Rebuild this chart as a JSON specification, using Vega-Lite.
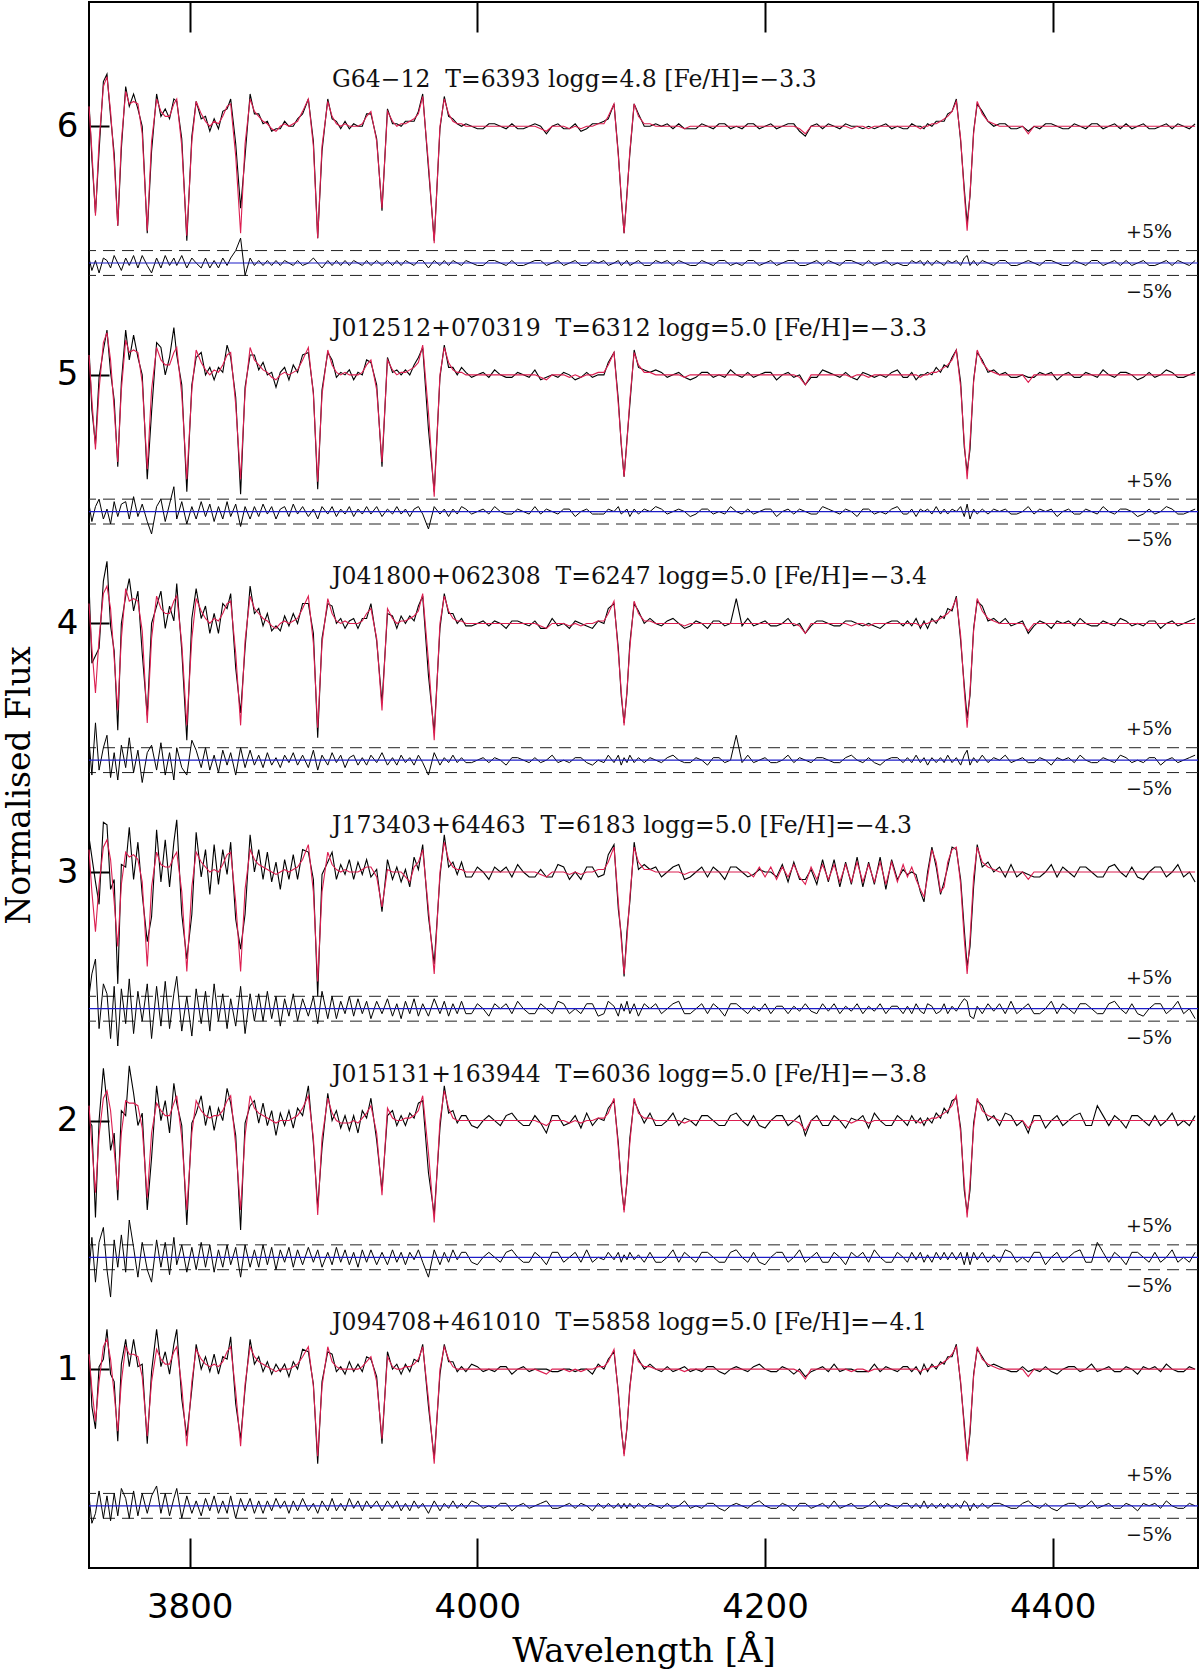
{
"$schema": "https://vega.github.io/schema/vega-lite/v6.json",
"width": 1109,
"height": 1566,
"autosize": {"type": "none"},
"padding": {"left": 89, "top": 2, "right": 2, "bottom": 103},
"background": "white",
"config": {
  "view": {"stroke": "#000", "strokeWidth": 2},
  "axis": {"grid": false, "domain": false, "tickColor": "#000", "labelColor": "#000", "titleColor": "#000", "tickWidth": 2}
},
"resolve": {"axis": {"x": "independent", "y": "independent"}},
"data": {
  "format": {"type": "csv", "parse": {"w": "number", "n": "number", "o": "number", "m": "number", "r": "number"}},
  "values": "w,n,o,m,r\n3730,6,6.10,6.08,5.47\n3732,6,5.87,5.90,5.42\n3734.5,6,5.65,5.64,5.46\n3737,6,5.90,5.94,5.41\n3740,6,6.18,6.16,5.47\n3742.5,6,6.21,6.20,5.46\n3745,6,6.04,6.06,5.43\n3747.5,6,5.89,5.86,5.48\n3750,6,5.60,5.60,5.45\n3752.5,6,5.91,5.94,5.42\n3755.5,6,6.16,6.14,5.47\n3758,6,6.08,6.09,5.44\n3761,6,6.13,6.10,5.48\n3764,6,6.07,6.09,5.43\n3767,6,6.00,5.97,5.48\n3770.5,6,5.57,5.58,5.44\n3773.5,6,5.90,5.94,5.41\n3777,6,6.13,6.11,5.47\n3780,6,6.04,6.06,5.43\n3783,6,6.07,6.04,5.48\n3786,6,6.03,6.04,5.44\n3789,6,6.11,6.09,5.47\n3791,6,6.10,6.11,5.44\n3794.5,6,5.95,5.92,5.48\n3798,6,5.54,5.56,5.43\n3801.5,6,5.96,5.94,5.47\n3804.5,6,6.10,6.10,5.45\n3808,6,6.03,6.05,5.43\n3811,6,6.04,6.02,5.47\n3814,6,5.98,6.00,5.43\n3817,6,6.03,6.02,5.46\n3820,6,5.99,6.01,5.43\n3823,6,6.06,6.04,5.47\n3826,6,6.07,6.08,5.44\n3828.5,6,6.11,6.09,5.47\n3832,6,5.93,5.88,5.50\n3835.4,6,5.67,5.57,5.55\n3838.5,6,5.88,5.93,5.40\n3842,6,6.13,6.11,5.47\n3845,6,6.05,6.06,5.44\n3848,6,6.05,6.04,5.46\n3851,6,6.01,6.02,5.44\n3854,6,6.02,6.01,5.46\n3857,6,5.98,5.99,5.44\n3860,6,5.99,5.98,5.46\n3863,6,5.99,6.00,5.44\n3866,6,6.02,6.01,5.46\n3869,6,6.00,6.00,5.45\n3872,6,6.00,6.01,5.44\n3875,6,6.03,6.02,5.46\n3878.5,6,6.05,6.06,5.44\n3882.5,6,6.11,6.11,5.45\n3886,6,5.94,5.92,5.47\n3889,6,5.55,5.55,5.45\n3892,6,5.90,5.92,5.43\n3896,6,6.11,6.10,5.46\n3899,6,6.03,6.04,5.44\n3902,6,6.02,6.01,5.46\n3905,6,5.99,6.00,5.44\n3908,6,6.02,6.01,5.46\n3911,6,5.99,6.00,5.44\n3914,6,6.01,6.00,5.46\n3917,6,6.00,6.00,5.45\n3920,6,6.00,6.01,5.44\n3923,6,6.05,6.04,5.46\n3926,6,6.05,6.06,5.44\n3930,6,5.95,5.94,5.46\n3933.7,6,5.66,5.67,5.44\n3937.5,6,6.07,6.06,5.46\n3941,6,6.01,6.02,5.44\n3944,6,6.01,6.00,5.46\n3947,6,6.00,6.01,5.44\n3950,6,6.02,6.01,5.46\n3953,6,6.02,6.02,5.45\n3956,6,6.02,6.03,5.44\n3959,6,6.06,6.05,5.46\n3962,6,6.13,6.12,5.46\n3966,6,5.83,5.85,5.43\n3970,6,5.54,5.53,5.46\n3974,6,5.99,6.00,5.44\n3977,6,6.12,6.11,5.46\n3980,6,6.04,6.05,5.44\n3983,6,6.03,6.02,5.46\n3986,6,6.01,6.01,5.45\n3989,6,6.00,6.01,5.44\n3992,6,6.01,6.00,5.46\n3996,6,6.00,6.00,5.45\n4000,6,5.99,6.00,5.44\n4004,6,5.99,6.00,5.44\n4008,6,6.01,6.00,5.46\n4012,6,6.01,6.00,5.46\n4016,6,6.00,6.00,5.45\n4020,6,5.99,6.00,5.44\n4024,6,6.01,6.00,5.46\n4028,6,5.99,6.00,5.44\n4032,6,5.99,6.00,5.44\n4036,6,6.00,6.00,5.45\n4040,6,6.01,6.00,5.46\n4044,6,6.00,5.99,5.46\n4048,6,5.97,5.98,5.44\n4052,6,6.00,6.00,5.45\n4056,6,6.01,6.00,5.46\n4060,6,5.99,6.00,5.44\n4064,6,5.99,5.99,5.45\n4068,6,6.01,6.00,5.46\n4072,6,5.98,5.99,5.44\n4076,6,5.99,6.00,5.44\n4080,6,6.01,6.00,5.46\n4084,6,6.01,6.01,5.45\n4088,6,6.02,6.01,5.46\n4091,6,6.03,6.04,5.44\n4095,6,6.09,6.09,5.45\n4098,6,5.89,5.88,5.46\n4100,6,5.71,5.72,5.44\n4102,6,5.57,5.57,5.45\n4104,6,5.73,5.72,5.46\n4106,6,5.89,5.90,5.44\n4109,6,6.09,6.09,5.45\n4112,6,6.05,6.04,5.46\n4116,6,6.00,6.01,5.44\n4120,6,6.00,6.01,5.44\n4124,6,6.01,6.00,5.46\n4128,6,6.00,6.00,5.45\n4132,6,6.01,6.00,5.46\n4136,6,5.99,6.00,5.44\n4140,6,6.01,6.00,5.46\n4144,6,5.99,5.99,5.45\n4148,6,5.99,6.00,5.44\n4152,6,5.99,6.00,5.44\n4156,6,6.01,6.00,5.46\n4160,6,6.00,6.00,5.45\n4164,6,5.99,6.00,5.44\n4168,6,6.01,6.00,5.46\n4172,6,6.01,6.00,5.46\n4176,6,5.99,6.00,5.44\n4180,6,6.00,6.00,5.45\n4184,6,5.99,6.00,5.44\n4188,6,6.01,6.00,5.46\n4192,6,6.01,6.00,5.46\n4196,6,5.99,6.00,5.44\n4200,6,6.00,6.00,5.45\n4204,6,6.01,6.00,5.46\n4208,6,5.99,6.00,5.44\n4212,6,6.00,6.00,5.45\n4216,6,6.01,6.00,5.46\n4220,6,6.01,6.00,5.46\n4224,6,5.98,5.99,5.44\n4228,6,5.96,5.97,5.44\n4232,6,6.00,6.00,5.45\n4236,6,6.01,6.00,5.46\n4240,6,5.99,6.00,5.44\n4244,6,6.01,6.00,5.46\n4248,6,6.00,6.00,5.45\n4252,6,5.99,6.00,5.44\n4256,6,6.01,6.00,5.46\n4260,6,6.00,5.99,5.46\n4264,6,6.00,6.00,5.45\n4268,6,5.99,6.00,5.44\n4272,6,6.00,5.99,5.46\n4276,6,5.99,6.00,5.44\n4280,6,6.00,6.00,5.45\n4284,6,6.01,6.00,5.46\n4288,6,5.99,6.00,5.44\n4292,6,6.00,6.00,5.45\n4296,6,5.99,6.00,5.44\n4299,6,5.99,6.00,5.44\n4302,6,6.01,6.00,5.46\n4305,6,6.00,6.00,5.45\n4308,6,6.00,5.99,5.46\n4310.5,6,5.99,6.00,5.44\n4313,6,6.01,6.00,5.46\n4316,6,6.00,6.01,5.44\n4319,6,6.02,6.01,5.46\n4322,6,6.02,6.02,5.45\n4324.5,6,6.02,6.03,5.44\n4327,6,6.05,6.04,5.46\n4330,6,6.06,6.06,5.45\n4333,6,6.11,6.10,5.46\n4336,6,5.94,5.95,5.44\n4338.5,6,5.75,5.73,5.47\n4340.5,6,5.61,5.58,5.48\n4342.5,6,5.72,5.73,5.44\n4345,6,5.98,5.97,5.46\n4347.5,6,6.09,6.10,5.44\n4351,6,6.06,6.05,5.46\n4355,6,6.02,6.02,5.45\n4359,6,6.00,6.01,5.44\n4363,6,6.01,6.00,5.46\n4367,6,6.01,6.00,5.46\n4371,6,5.99,6.00,5.44\n4375,6,5.99,6.00,5.44\n4379,6,6.00,6.00,5.45\n4383,6,5.98,5.97,5.46\n4387,6,6.00,6.00,5.45\n4391,6,5.99,6.00,5.44\n4395,6,6.01,6.00,5.46\n4399,6,6.01,6.00,5.46\n4403,6,6.00,6.00,5.45\n4407,6,5.99,6.00,5.44\n4411,6,5.99,6.00,5.44\n4415,6,6.01,6.00,5.46\n4419,6,6.00,6.00,5.45\n4423,6,5.99,6.00,5.44\n4427,6,6.01,6.00,5.46\n4431,6,6.01,6.00,5.46\n4435,6,5.99,6.00,5.44\n4439,6,6.00,6.00,5.45\n4443,6,6.01,6.00,5.46\n4447,6,5.99,6.00,5.44\n4451,6,6.01,6.00,5.46\n4455,6,5.99,6.00,5.44\n4459,6,6.00,6.00,5.45\n4463,6,6.01,6.00,5.46\n4467,6,5.99,6.00,5.44\n4471,6,5.99,6.00,5.44\n4475,6,6.00,6.00,5.45\n4479,6,6.01,6.00,5.46\n4483,6,5.99,6.00,5.44\n4487,6,6.01,6.00,5.46\n4491,6,6.00,6.00,5.45\n4495,6,5.99,6.00,5.44\n4499,6,6.01,6.00,5.46\n3730,5,5.11,5.08,4.48\n3732,5,4.86,4.90,4.41\n3734.5,5,4.72,4.70,4.47\n3737,5,4.99,4.94,4.50\n3740,5,5.10,5.13,4.42\n3742.5,5,5.18,5.17,4.46\n3745,5,5.01,5.06,4.40\n3747.5,5,4.90,4.86,4.49\n3750,5,4.63,4.65,4.43\n3752.5,5,4.97,4.94,4.48\n3755.5,5,5.18,5.14,4.49\n3758,5,5.06,5.09,4.42\n3761,5,5.16,5.10,4.51\n3764,5,5.07,5.09,4.43\n3767,5,5.00,4.97,4.48\n3770.5,5,4.58,4.62,4.41\n3773.5,5,4.85,4.94,4.36\n3777,5,5.13,5.11,4.47\n3780,5,5.11,5.06,4.50\n3783,5,5.00,5.04,4.41\n3786,5,5.07,5.04,4.48\n3789,5,5.19,5.09,4.55\n3791,5,5.08,5.11,4.42\n3794.5,5,4.96,4.92,4.49\n3798,5,4.53,4.58,4.40\n3801.5,5,4.96,4.94,4.47\n3804.5,5,5.07,5.10,4.42\n3808,5,5.09,5.05,4.49\n3811,5,5.00,5.02,4.43\n3814,5,5.03,5.00,4.48\n3817,5,4.98,5.02,4.41\n3820,5,5.03,5.01,4.47\n3823,5,5.01,5.04,4.42\n3826,5,5.12,5.08,4.49\n3828.5,5,5.07,5.09,4.43\n3832,5,4.91,4.88,4.48\n3835.4,5,4.52,4.58,4.39\n3838.5,5,4.95,4.93,4.47\n3842,5,5.08,5.11,4.42\n3845,5,5.08,5.06,4.47\n3848,5,5.02,5.04,4.43\n3851,5,5.05,5.02,4.48\n3854,5,5.00,5.01,4.44\n3857,5,5.01,4.99,4.47\n3860,5,4.95,4.98,4.42\n3863,5,5.01,5.00,4.46\n3866,5,5.03,5.01,4.47\n3869,5,4.98,5.00,4.43\n3872,5,5.04,5.01,4.48\n3875,5,5.01,5.02,4.44\n3878.5,5,5.08,5.06,4.47\n3882.5,5,5.09,5.11,4.43\n3886,5,4.93,4.92,4.46\n3889,5,4.54,4.57,4.42\n3892,5,4.94,4.92,4.47\n3896,5,5.09,5.10,4.44\n3899,5,5.06,5.04,4.47\n3902,5,4.99,5.01,4.43\n3905,5,5.01,5.00,4.46\n3908,5,5.00,5.01,4.44\n3911,5,5.02,5.00,4.47\n3914,5,4.98,5.00,4.43\n3917,5,5.01,5.00,4.46\n3920,5,5.00,5.01,4.44\n3923,5,5.06,5.04,4.47\n3926,5,5.05,5.06,4.44\n3930,5,4.96,4.94,4.47\n3933.7,5,4.63,4.65,4.43\n3937.5,5,5.07,5.06,4.46\n3941,5,5.01,5.02,4.44\n3944,5,5.02,5.00,4.47\n3947,5,5.00,5.01,4.44\n3950,5,5.02,5.01,4.46\n3953,5,5.00,5.02,4.43\n3956,5,5.04,5.03,4.46\n3959,5,5.07,5.05,4.47\n3962,5,5.11,5.12,4.44\n3966,5,4.78,4.85,4.38\n3970,5,4.53,4.51,4.47\n3974,5,4.99,5.00,4.44\n3977,5,5.12,5.11,4.46\n3980,5,5.03,5.05,4.43\n3983,5,5.03,5.02,4.46\n3986,5,5.00,5.01,4.44\n3989,5,5.03,5.01,4.47\n3992,5,5.01,5.00,4.46\n3996,5,4.99,5.00,4.44\n4000,5,5.00,5.00,4.45\n4004,5,5.01,5.00,4.46\n4008,5,4.99,5.00,4.44\n4012,5,5.02,5.00,4.47\n4016,5,5.00,5.00,4.45\n4020,5,4.99,5.00,4.44\n4024,5,4.99,5.00,4.44\n4028,5,5.01,5.00,4.46\n4032,5,5.00,5.00,4.45\n4036,5,4.99,5.00,4.44\n4040,5,5.02,5.00,4.47\n4044,5,4.98,4.99,4.44\n4048,5,4.99,4.98,4.46\n4052,5,5.00,5.00,4.45\n4056,5,4.99,5.00,4.44\n4060,5,5.01,5.00,4.46\n4064,5,5.00,4.99,4.46\n4068,5,4.98,5.00,4.43\n4072,5,4.99,4.99,4.45\n4076,5,5.01,5.00,4.46\n4080,5,4.99,5.00,4.44\n4084,5,5.00,5.01,4.44\n4088,5,5.00,5.01,4.44\n4091,5,5.05,5.04,4.46\n4095,5,5.09,5.09,4.45\n4098,5,4.90,4.88,4.47\n4100,5,4.72,4.73,4.44\n4102,5,4.59,4.59,4.45\n4104,5,4.74,4.73,4.46\n4106,5,4.88,4.90,4.43\n4109,5,5.10,5.09,4.46\n4112,5,5.03,5.04,4.44\n4116,5,5.02,5.01,4.46\n4120,5,5.01,5.01,4.45\n4124,5,5.02,5.00,4.47\n4128,5,5.01,5.00,4.46\n4132,5,4.99,5.00,4.44\n4136,5,5.00,5.00,4.45\n4140,5,5.01,5.00,4.46\n4144,5,4.99,4.99,4.45\n4148,5,4.98,5.00,4.43\n4152,5,4.99,5.00,4.44\n4156,5,5.01,5.00,4.46\n4160,5,5.01,5.00,4.46\n4164,5,4.99,5.00,4.44\n4168,5,5.00,5.00,4.45\n4172,5,4.99,5.00,4.44\n4176,5,5.02,5.00,4.47\n4180,5,5.00,5.00,4.45\n4184,5,4.99,5.00,4.44\n4188,5,5.01,5.00,4.46\n4192,5,4.99,5.00,4.44\n4196,5,5.00,5.00,4.45\n4200,5,5.01,5.00,4.46\n4204,5,5.01,5.00,4.46\n4208,5,4.98,5.00,4.43\n4212,5,5.00,5.00,4.45\n4216,5,5.01,5.00,4.46\n4220,5,4.99,5.00,4.44\n4224,5,5.00,4.99,4.46\n4228,5,4.96,4.96,4.45\n4232,5,4.99,5.00,4.44\n4236,5,4.99,5.00,4.44\n4240,5,5.02,5.00,4.47\n4244,5,5.01,5.00,4.46\n4248,5,5.00,5.00,4.45\n4252,5,4.99,5.00,4.44\n4256,5,5.01,5.00,4.46\n4260,5,4.99,4.99,4.45\n4264,5,4.98,5.00,4.43\n4268,5,5.01,5.00,4.46\n4272,5,5.00,4.99,4.46\n4276,5,4.99,5.00,4.44\n4280,5,5.00,5.00,4.45\n4284,5,4.99,5.00,4.44\n4288,5,5.01,5.00,4.46\n4292,5,5.02,5.00,4.47\n4296,5,4.99,5.00,4.44\n4299,5,4.99,5.00,4.44\n4302,5,5.01,5.00,4.46\n4305,5,4.98,5.00,4.43\n4308,5,5.00,4.99,4.46\n4310.5,5,5.00,5.00,4.45\n4313,5,5.01,5.00,4.46\n4316,5,5.00,5.01,4.44\n4319,5,5.03,5.01,4.47\n4322,5,5.01,5.02,4.44\n4324.5,5,5.04,5.03,4.46\n4327,5,5.03,5.04,4.44\n4330,5,5.07,5.06,4.46\n4333,5,5.10,5.10,4.45\n4336,5,4.97,4.95,4.47\n4338.5,5,4.71,4.73,4.43\n4340.5,5,4.61,4.58,4.48\n4342.5,5,4.70,4.73,4.42\n4345,5,4.98,4.97,4.46\n4347.5,5,5.09,5.10,4.44\n4351,5,5.06,5.05,4.46\n4355,5,5.01,5.02,4.44\n4359,5,5.02,5.01,4.46\n4363,5,5.00,5.00,4.45\n4367,5,5.01,5.00,4.46\n4371,5,4.99,5.00,4.44\n4375,5,4.99,5.00,4.44\n4379,5,5.00,5.00,4.45\n4383,5,4.99,4.97,4.47\n4387,5,4.99,5.00,4.44\n4391,5,5.01,5.00,4.46\n4395,5,5.00,5.00,4.45\n4399,5,5.01,5.00,4.46\n4403,5,4.98,5.00,4.43\n4407,5,5.00,5.00,4.45\n4411,5,5.01,5.00,4.46\n4415,5,4.99,5.00,4.44\n4419,5,4.99,5.00,4.44\n4423,5,5.01,5.00,4.46\n4427,5,5.00,5.00,4.45\n4431,5,4.99,5.00,4.44\n4435,5,5.02,5.00,4.47\n4439,5,5.00,5.00,4.45\n4443,5,4.99,5.00,4.44\n4447,5,5.01,5.00,4.46\n4451,5,5.01,5.00,4.46\n4455,5,5.00,5.00,4.45\n4459,5,4.98,5.00,4.43\n4463,5,4.99,5.00,4.44\n4467,5,5.01,5.00,4.46\n4471,5,4.99,5.00,4.44\n4475,5,5.00,5.00,4.45\n4479,5,5.02,5.00,4.47\n4483,5,5.01,5.00,4.46\n4487,5,4.99,5.00,4.44\n4491,5,4.99,5.00,4.44\n4495,5,5.00,5.00,4.45\n4499,5,5.01,5.00,4.46\n3730,4,4.16,4.08,3.53\n3732,4,3.84,3.90,3.39\n3734.5,4,3.87,3.72,3.60\n3737,4,3.90,3.94,3.41\n3740,4,4.17,4.12,3.50\n3742.5,4,4.25,4.15,3.55\n3745,4,3.99,4.06,3.38\n3747.5,4,3.89,3.86,3.48\n3750,4,3.57,3.65,3.37\n3752.5,4,4.00,3.94,3.51\n3755.5,4,4.11,4.14,3.42\n3758,4,4.18,4.09,3.54\n3761,4,4.05,4.10,3.40\n3764,4,4.13,4.09,3.49\n3767,4,3.88,3.97,3.36\n3770.5,4,3.63,3.60,3.48\n3773.5,4,4.00,3.94,3.51\n3777,4,4.07,4.11,3.41\n3780,4,4.13,4.06,3.52\n3783,4,3.98,4.04,3.39\n3786,4,4.07,4.04,3.48\n3789,4,4.01,4.09,3.37\n3791,4,4.16,4.11,3.50\n3794.5,4,3.89,3.92,3.42\n3798,4,3.53,3.59,3.39\n3801.5,4,4.02,3.94,3.53\n3804.5,4,4.14,4.10,3.49\n3808,4,4.02,4.05,3.42\n3811,4,4.07,4.02,3.50\n3814,4,3.96,4.00,3.41\n3817,4,4.04,4.02,3.47\n3820,4,3.96,4.01,3.40\n3823,4,4.08,4.04,3.49\n3826,4,4.06,4.08,3.43\n3828.5,4,4.12,4.09,3.48\n3832,4,3.82,3.88,3.39\n3835.4,4,3.64,3.59,3.50\n3838.5,4,3.90,3.93,3.42\n3842,4,4.15,4.11,3.49\n3845,4,4.04,4.06,3.43\n3848,4,4.06,4.04,3.47\n3851,4,3.99,4.02,3.42\n3854,4,4.04,4.01,3.48\n3857,4,3.97,3.99,3.43\n3860,4,3.99,3.98,3.46\n3863,4,3.97,4.00,3.42\n3866,4,4.03,4.01,3.47\n3869,4,3.99,4.00,3.44\n3872,4,4.04,4.01,3.48\n3875,4,4.00,4.02,3.43\n3878.5,4,4.08,4.06,3.47\n3882.5,4,4.08,4.11,3.42\n3886,4,3.96,3.92,3.49\n3889,4,3.54,3.58,3.41\n3892,4,3.94,3.92,3.47\n3896,4,4.08,4.10,3.43\n3899,4,4.07,4.04,3.48\n3902,4,4.00,4.01,3.44\n3905,4,4.02,4.00,3.47\n3908,4,3.98,4.01,3.42\n3911,4,4.01,4.00,3.46\n3914,4,4.02,4.00,3.47\n3917,4,3.98,4.00,3.43\n3920,4,4.02,4.01,3.46\n3923,4,4.02,4.04,3.43\n3926,4,4.08,4.06,3.47\n3930,4,3.93,3.94,3.44\n3933.7,4,3.68,3.65,3.48\n3937.5,4,4.04,4.06,3.43\n3941,4,4.03,4.02,3.46\n3944,4,3.98,4.00,3.43\n3947,4,4.03,4.01,3.47\n3950,4,4.00,4.01,3.44\n3953,4,4.03,4.02,3.46\n3956,4,4.01,4.03,3.43\n3959,4,4.07,4.05,3.47\n3962,4,4.11,4.12,3.44\n3966,4,3.79,3.85,3.39\n3970,4,3.56,3.53,3.48\n3974,4,3.98,4.00,3.43\n3977,4,4.12,4.11,3.46\n3980,4,4.04,4.05,3.44\n3983,4,4.04,4.02,3.47\n3986,4,4.00,4.01,3.44\n3989,4,4.02,4.01,3.46\n3992,4,3.99,4.00,3.44\n3996,4,3.99,4.00,3.44\n4000,4,4.00,4.00,3.45\n4004,4,4.01,4.00,3.46\n4008,4,3.99,4.00,3.44\n4012,4,4.01,4.00,3.46\n4016,4,4.00,4.00,3.45\n4020,4,3.98,4.00,3.43\n4024,4,4.01,4.00,3.46\n4028,4,4.01,4.00,3.46\n4032,4,4.00,4.00,3.45\n4036,4,3.99,4.00,3.44\n4040,4,4.01,4.00,3.46\n4044,4,3.98,3.99,3.44\n4048,4,3.98,3.98,3.45\n4052,4,4.02,4.00,3.47\n4056,4,3.99,4.00,3.44\n4060,4,4.00,4.00,3.45\n4064,4,3.98,3.99,3.44\n4068,4,4.01,4.00,3.46\n4072,4,4.00,3.99,3.46\n4076,4,3.99,4.00,3.44\n4080,4,3.98,4.00,3.43\n4084,4,4.01,4.01,3.45\n4088,4,4.00,4.01,3.44\n4091,4,4.06,4.04,3.47\n4095,4,4.08,4.09,3.44\n4098,4,3.90,3.88,3.47\n4100,4,3.71,3.73,3.43\n4102,4,3.60,3.59,3.46\n4104,4,3.72,3.73,3.44\n4106,4,3.92,3.90,3.47\n4109,4,4.08,4.09,3.44\n4112,4,4.05,4.04,3.46\n4116,4,4.00,4.01,3.44\n4120,4,4.02,4.01,3.46\n4124,4,4.00,4.00,3.45\n4128,4,3.99,4.00,3.44\n4132,4,4.01,4.00,3.46\n4136,4,4.02,4.00,3.47\n4140,4,4.00,4.00,3.45\n4144,4,3.98,3.99,3.44\n4148,4,3.99,4.00,3.44\n4152,4,4.01,4.00,3.46\n4156,4,4.00,4.00,3.45\n4160,4,3.98,4.00,3.43\n4164,4,4.01,4.00,3.46\n4168,4,4.01,4.00,3.46\n4172,4,3.99,4.00,3.44\n4176,4,4.00,4.00,3.45\n4180,4,4.10,4.00,3.55\n4184,4,3.99,4.00,3.44\n4188,4,4.02,4.00,3.47\n4192,4,3.99,4.00,3.44\n4196,4,4.00,4.00,3.45\n4200,4,4.01,4.00,3.46\n4204,4,3.99,4.00,3.44\n4208,4,3.99,4.00,3.44\n4212,4,4.00,4.00,3.45\n4216,4,4.02,4.00,3.47\n4220,4,3.99,4.00,3.44\n4224,4,4.00,3.99,3.46\n4228,4,3.96,3.96,3.45\n4232,4,3.99,4.00,3.44\n4236,4,4.01,4.00,3.46\n4240,4,4.01,4.00,3.46\n4244,4,4.00,4.00,3.45\n4248,4,3.99,4.00,3.44\n4252,4,3.99,4.00,3.44\n4256,4,4.01,4.00,3.46\n4260,4,4.01,3.99,3.47\n4264,4,4.00,4.00,3.45\n4268,4,3.99,4.00,3.44\n4272,4,4.00,3.99,3.46\n4276,4,3.99,4.00,3.44\n4280,4,3.98,4.00,3.43\n4284,4,4.00,4.00,3.45\n4288,4,4.01,4.00,3.46\n4292,4,4.01,4.00,3.46\n4296,4,3.99,4.00,3.44\n4299,4,4.01,4.00,3.46\n4302,4,3.99,4.00,3.44\n4305,4,4.02,4.00,3.47\n4308,4,3.98,3.99,3.44\n4310.5,4,4.01,4.00,3.46\n4313,4,3.98,4.00,3.43\n4316,4,4.02,4.01,3.46\n4319,4,4.00,4.01,3.44\n4322,4,4.03,4.02,3.46\n4324.5,4,4.02,4.03,3.44\n4327,4,4.06,4.04,3.47\n4330,4,4.05,4.06,3.44\n4333,4,4.11,4.10,3.46\n4336,4,3.93,3.95,3.43\n4338.5,4,3.75,3.73,3.47\n4340.5,4,3.62,3.58,3.49\n4342.5,4,3.71,3.73,3.43\n4345,4,3.98,3.97,3.46\n4347.5,4,4.09,4.10,3.44\n4351,4,4.07,4.05,3.47\n4355,4,4.01,4.02,3.44\n4359,4,4.02,4.01,3.46\n4363,4,4.00,4.00,3.45\n4367,4,4.02,4.00,3.47\n4371,4,3.99,4.00,3.44\n4375,4,4.00,4.00,3.45\n4379,4,4.01,4.00,3.46\n4383,4,3.96,3.97,3.44\n4387,4,3.99,4.00,3.44\n4391,4,4.01,4.00,3.46\n4395,4,4.00,4.00,3.45\n4399,4,3.98,4.00,3.43\n4403,4,4.01,4.00,3.46\n4407,4,4.00,4.00,3.45\n4411,4,4.01,4.00,3.46\n4415,4,3.99,4.00,3.44\n4419,4,4.02,4.00,3.47\n4423,4,4.00,4.00,3.45\n4427,4,3.99,4.00,3.44\n4431,4,3.99,4.00,3.44\n4435,4,4.01,4.00,3.46\n4439,4,4.00,4.00,3.45\n4443,4,3.99,4.00,3.44\n4447,4,4.02,4.00,3.47\n4451,4,4.01,4.00,3.46\n4455,4,3.99,4.00,3.44\n4459,4,4.00,4.00,3.45\n4463,4,3.99,4.00,3.44\n4467,4,4.01,4.00,3.46\n4471,4,4.01,4.00,3.46\n4475,4,3.98,4.00,3.43\n4479,4,4.00,4.00,3.45\n4483,4,4.01,4.00,3.46\n4487,4,3.99,4.00,3.44\n4491,4,4.00,4.00,3.45\n4495,4,4.01,4.00,3.46\n4499,4,4.02,4.00,3.47\n3730,3,3.14,3.09,2.50\n3732,3,3.06,2.92,2.59\n3734.5,3,2.96,2.76,2.65\n3737,3,2.87,2.95,2.37\n3740,3,3.20,3.10,2.55\n3742.5,3,3.19,3.13,2.51\n3745,3,2.93,3.05,2.33\n3747.5,3,2.97,2.88,2.54\n3750,3,2.55,2.70,2.30\n3752.5,3,3.03,2.95,2.53\n3755.5,3,3.02,3.08,2.39\n3758,3,3.18,3.06,2.57\n3761,3,2.97,3.07,2.35\n3764,3,3.12,3.05,2.52\n3767,3,2.91,2.96,2.40\n3770.5,3,2.72,2.62,2.55\n3773.5,3,2.82,2.94,2.33\n3777,3,3.17,3.08,2.54\n3780,3,2.96,3.03,2.38\n3783,3,3.13,3.02,2.56\n3786,3,2.94,3.02,2.37\n3789,3,3.12,3.06,2.51\n3791,3,3.21,3.08,2.58\n3794.5,3,2.83,2.92,2.36\n3798,3,2.65,2.60,2.50\n3801.5,3,2.83,2.94,2.34\n3804.5,3,3.16,3.08,2.53\n3808,3,2.98,3.04,2.39\n3811,3,3.09,3.02,2.52\n3814,3,2.91,3.00,2.36\n3817,3,3.11,3.01,2.55\n3820,3,2.95,3.00,2.40\n3823,3,3.09,3.03,2.51\n3826,3,2.99,3.07,2.37\n3828.5,3,3.12,3.08,2.49\n3832,3,2.81,2.88,2.38\n3835.4,3,2.69,2.60,2.54\n3838.5,3,2.83,2.93,2.35\n3842,3,3.15,3.09,2.51\n3845,3,3.00,3.05,2.40\n3848,3,3.09,3.03,2.51\n3851,3,2.97,3.02,2.40\n3854,3,3.08,3.01,2.52\n3857,3,2.96,3.00,2.41\n3860,3,3.04,2.99,2.50\n3863,3,2.93,3.00,2.38\n3866,3,3.05,3.01,2.49\n3869,3,2.97,3.00,2.42\n3872,3,3.07,3.01,2.51\n3875,3,2.97,3.02,2.40\n3878.5,3,3.09,3.05,2.49\n3882.5,3,3.08,3.11,2.42\n3886,3,2.97,2.92,2.50\n3889,3,2.50,2.56,2.39\n3892,3,2.99,2.92,2.52\n3896,3,3.04,3.08,2.41\n3899,3,3.08,3.03,2.50\n3902,3,2.97,3.01,2.41\n3905,3,3.03,3.00,2.48\n3908,3,2.99,3.01,2.43\n3911,3,3.05,3.00,2.50\n3914,3,2.97,3.00,2.42\n3917,3,3.04,3.00,2.49\n3920,3,2.99,3.01,2.43\n3923,3,3.05,3.02,2.48\n3926,3,2.98,3.02,2.41\n3930,3,3.01,2.98,2.48\n3933.7,3,2.84,2.86,2.43\n3937.5,3,3.05,3.01,2.49\n3941,3,2.97,3.00,2.42\n3944,3,3.02,3.00,2.47\n3947,3,2.96,3.00,2.41\n3950,3,3.01,2.98,2.48\n3953,3,2.94,2.96,2.43\n3956,3,3.06,3.02,2.49\n3959,3,3.01,3.04,2.42\n3962,3,3.11,3.09,2.47\n3966,3,2.82,2.85,2.42\n3970,3,2.63,2.59,2.49\n3974,3,2.98,3.00,2.43\n3977,3,3.15,3.12,2.48\n3980,3,3.02,3.05,2.42\n3983,3,3.04,3.02,2.47\n3986,3,2.99,3.01,2.43\n3989,3,3.04,3.01,2.48\n3992,3,2.98,3.00,2.43\n3996,3,2.98,3.00,2.43\n4000,3,3.02,3.00,2.47\n4004,3,3.00,3.00,2.45\n4008,3,2.97,3.00,2.42\n4012,3,3.02,3.00,2.47\n4016,3,3.00,3.00,2.45\n4020,3,3.02,3.00,2.47\n4024,3,2.98,3.00,2.43\n4028,3,3.03,3.00,2.48\n4032,3,3.00,3.00,2.45\n4036,3,2.98,3.00,2.43\n4040,3,2.98,3.00,2.43\n4044,3,3.01,2.99,2.47\n4048,3,2.98,2.98,2.45\n4052,3,2.98,3.00,2.43\n4056,3,3.03,3.00,2.48\n4060,3,3.02,3.00,2.47\n4064,3,2.97,2.99,2.43\n4068,3,3.00,3.00,2.45\n4072,3,2.97,2.99,2.43\n4076,3,3.02,3.00,2.47\n4080,3,3.02,3.00,2.47\n4084,3,2.98,3.01,2.42\n4088,3,2.99,3.01,2.43\n4091,3,3.07,3.04,2.48\n4095,3,3.11,3.10,2.46\n4098,3,2.85,2.88,2.42\n4100,3,2.75,2.73,2.47\n4102,3,2.58,2.59,2.44\n4104,3,2.76,2.73,2.48\n4106,3,2.88,2.90,2.43\n4109,3,3.12,3.10,2.47\n4112,3,3.01,3.04,2.42\n4116,3,3.03,3.01,2.47\n4120,3,3.01,3.01,2.45\n4124,3,3.02,3.00,2.47\n4128,3,2.98,3.00,2.43\n4132,3,3.00,3.00,2.45\n4136,3,3.02,3.00,2.47\n4140,3,3.03,3.00,2.48\n4144,3,2.97,2.99,2.43\n4148,3,2.98,3.00,2.43\n4152,3,3.00,3.00,2.45\n4156,3,3.02,3.00,2.47\n4160,3,2.98,3.00,2.43\n4164,3,3.02,3.00,2.47\n4168,3,3.00,3.00,2.45\n4172,3,2.97,3.00,2.42\n4176,3,3.02,3.00,2.47\n4180,3,3.02,3.00,2.47\n4184,3,3.00,3.00,2.45\n4188,3,2.98,3.00,2.43\n4192,3,2.99,2.98,2.46\n4196,3,3.01,3.02,2.44\n4200,3,3.00,2.98,2.47\n4204,3,3.00,3.02,2.43\n4208,3,2.98,2.97,2.46\n4212,3,3.03,3.02,2.46\n4216,3,2.96,2.98,2.43\n4220,3,3.04,3.03,2.46\n4224,3,2.97,2.98,2.44\n4228,3,2.97,2.95,2.47\n4232,3,3.01,3.02,2.44\n4236,3,2.95,2.97,2.43\n4240,3,3.05,3.03,2.47\n4244,3,2.96,2.97,2.44\n4248,3,3.05,3.03,2.47\n4252,3,2.94,2.96,2.43\n4256,3,3.04,3.03,2.46\n4260,3,2.95,2.96,2.44\n4264,3,3.06,3.04,2.47\n4268,3,2.94,2.96,2.43\n4272,3,3.04,3.03,2.46\n4276,3,2.95,2.96,2.44\n4280,3,3.06,3.04,2.47\n4284,3,2.93,2.95,2.43\n4288,3,3.05,3.04,2.46\n4292,3,2.97,2.96,2.46\n4296,3,3.01,3.03,2.43\n4299,3,2.99,2.98,2.46\n4302,3,3.00,3.02,2.43\n4305,3,2.99,2.97,2.47\n4308,3,2.92,2.93,2.44\n4310.5,3,2.88,2.90,2.43\n4313,3,3.00,2.98,2.47\n4316,3,3.10,3.09,2.46\n4319,3,3.02,3.04,2.43\n4322,3,2.91,2.92,2.44\n4324.5,3,2.96,2.94,2.47\n4327,3,3.02,3.04,2.43\n4330,3,3.10,3.09,2.46\n4333,3,3.09,3.10,2.44\n4336,3,2.97,2.95,2.47\n4338.5,3,2.77,2.73,2.49\n4340.5,3,2.62,2.59,2.48\n4342.5,3,2.70,2.73,2.42\n4345,3,2.94,2.98,2.41\n4347.5,3,3.11,3.10,2.46\n4351,3,3.02,3.04,2.43\n4355,3,3.04,3.02,2.47\n4359,3,3.00,3.01,2.44\n4363,3,3.02,3.00,2.47\n4367,3,2.98,3.00,2.43\n4371,3,3.03,3.00,2.48\n4375,3,2.98,3.00,2.43\n4379,3,3.00,3.00,2.45\n4383,3,2.99,2.97,2.47\n4387,3,2.98,3.00,2.43\n4391,3,2.98,3.00,2.43\n4395,3,3.00,3.00,2.45\n4399,3,3.03,3.00,2.48\n4403,3,2.98,3.00,2.43\n4407,3,3.02,3.00,2.47\n4411,3,3.00,3.00,2.45\n4415,3,2.98,3.00,2.43\n4419,3,3.02,3.00,2.47\n4423,3,3.02,3.00,2.47\n4427,3,3.00,3.00,2.45\n4431,3,2.98,3.00,2.43\n4435,3,2.98,3.00,2.43\n4439,3,3.02,3.00,2.47\n4443,3,3.03,3.00,2.48\n4447,3,3.00,3.00,2.45\n4451,3,2.98,3.00,2.43\n4455,3,3.02,3.00,2.47\n4459,3,2.98,3.00,2.43\n4463,3,2.97,3.00,2.42\n4467,3,3.00,3.00,2.45\n4471,3,3.02,3.00,2.47\n4475,3,3.02,3.00,2.47\n4479,3,2.98,3.00,2.43\n4483,3,3.00,3.00,2.45\n4487,3,3.03,3.00,2.48\n4491,3,2.98,3.00,2.43\n4495,3,3.00,3.00,2.45\n4499,3,2.96,3.00,2.41\n3730,2,2.00,2.06,1.39\n3732,2,1.98,1.90,1.53\n3734.5,2,1.61,1.71,1.35\n3737,2,2.00,1.94,1.51\n3740,2,2.21,2.09,1.57\n3742.5,2,2.07,2.12,1.40\n3745,2,1.88,2.04,1.29\n3747.5,2,1.95,1.88,1.52\n3750,2,1.68,1.72,1.41\n3752.5,2,2.04,1.95,1.54\n3755.5,2,2.02,2.08,1.39\n3758,2,2.22,2.07,1.60\n3761,2,2.11,2.07,1.49\n3764,2,1.98,2.06,1.37\n3767,2,2.03,1.97,1.51\n3770.5,2,1.64,1.69,1.40\n3773.5,2,1.85,1.95,1.35\n3777,2,2.14,2.07,1.52\n3780,2,2.00,2.04,1.41\n3783,2,2.08,2.02,1.51\n3786,2,1.95,2.02,1.38\n3789,2,2.15,2.07,1.53\n3791,2,2.07,2.10,1.42\n3794.5,2,1.98,1.93,1.50\n3798,2,1.58,1.64,1.39\n3801.5,2,1.99,1.95,1.49\n3804.5,2,2.03,2.08,1.40\n3808,2,2.10,2.04,1.51\n3811,2,1.98,2.02,1.41\n3814,2,2.06,2.01,1.50\n3817,2,1.96,2.02,1.39\n3820,2,2.05,2.02,1.48\n3823,2,2.00,2.04,1.41\n3826,2,2.13,2.08,1.50\n3828.5,2,2.07,2.10,1.42\n3832,2,1.94,1.90,1.49\n3835.4,2,1.56,1.64,1.37\n3838.5,2,1.99,1.94,1.50\n3842,2,2.06,2.10,1.41\n3845,2,2.08,2.05,1.48\n3848,2,1.99,2.03,1.41\n3851,2,2.07,2.02,1.50\n3854,2,1.98,2.01,1.42\n3857,2,2.04,2.00,1.49\n3860,2,1.94,1.99,1.40\n3863,2,2.03,2.00,1.48\n3866,2,1.98,2.00,1.43\n3869,2,2.04,2.00,1.49\n3872,2,1.97,2.01,1.41\n3875,2,2.05,2.02,1.48\n3878.5,2,2.02,2.05,1.42\n3882.5,2,2.14,2.10,1.49\n3886,2,1.91,1.93,1.43\n3889,2,1.65,1.62,1.48\n3892,2,1.89,1.93,1.41\n3896,2,2.11,2.09,1.47\n3899,2,2.00,2.03,1.42\n3902,2,2.04,2.00,1.49\n3905,2,1.97,1.99,1.43\n3908,2,2.02,1.99,1.48\n3911,2,1.96,1.99,1.42\n3914,2,2.02,2.00,1.47\n3917,2,1.95,1.99,1.41\n3920,2,2.04,2.01,1.48\n3923,2,2.01,2.03,1.43\n3926,2,2.09,2.06,1.48\n3930,2,1.92,1.95,1.42\n3933.7,2,1.72,1.70,1.47\n3937.5,2,2.02,2.05,1.42\n3941,2,2.04,2.01,1.48\n3944,2,1.98,2.00,1.43\n3947,2,2.02,2.00,1.47\n3950,2,1.98,2.01,1.42\n3953,2,2.03,2.01,1.47\n3956,2,2.01,2.02,1.44\n3959,2,2.07,2.04,1.48\n3962,2,2.08,2.10,1.43\n3966,2,1.79,1.87,1.37\n3970,2,1.62,1.59,1.48\n3974,2,1.97,2.00,1.42\n3977,2,2.14,2.12,1.47\n3980,2,2.03,2.05,1.43\n3983,2,2.04,2.01,1.48\n3986,2,1.99,2.00,1.44\n3989,2,2.02,2.00,1.47\n3992,2,2.02,2.00,1.47\n3996,2,1.98,2.00,1.43\n4000,2,1.97,2.00,1.42\n4004,2,2.00,2.00,1.45\n4008,2,2.02,2.00,1.47\n4012,2,2.00,2.00,1.45\n4016,2,1.98,2.00,1.43\n4020,2,2.02,2.00,1.47\n4024,2,2.03,2.00,1.48\n4028,2,2.00,2.00,1.45\n4032,2,1.98,2.00,1.43\n4036,2,1.98,2.00,1.43\n4040,2,2.02,2.00,1.47\n4044,2,1.99,1.99,1.45\n4048,2,1.95,1.98,1.42\n4052,2,2.02,2.00,1.47\n4056,2,2.02,2.00,1.47\n4060,2,1.98,2.00,1.43\n4064,2,1.99,1.99,1.45\n4068,2,2.02,2.00,1.47\n4072,2,1.97,1.99,1.43\n4076,2,2.03,2.00,1.48\n4080,2,1.98,2.00,1.43\n4084,2,2.01,2.01,1.45\n4088,2,2.00,2.01,1.44\n4091,2,2.05,2.03,1.47\n4095,2,2.08,2.09,1.44\n4098,2,1.91,1.89,1.47\n4100,2,1.74,1.76,1.43\n4102,2,1.64,1.63,1.46\n4104,2,1.75,1.76,1.44\n4106,2,1.93,1.91,1.47\n4109,2,2.08,2.09,1.44\n4112,2,2.04,2.03,1.46\n4116,2,1.99,2.01,1.43\n4120,2,2.03,2.01,1.47\n4124,2,1.98,2.00,1.43\n4128,2,1.98,2.00,1.43\n4132,2,2.00,2.00,1.45\n4136,2,2.03,2.00,1.48\n4140,2,1.98,2.00,1.43\n4144,2,2.01,1.99,1.47\n4148,2,2.00,2.00,1.45\n4152,2,1.98,2.00,1.43\n4156,2,2.02,2.00,1.47\n4160,2,2.02,2.00,1.47\n4164,2,2.00,2.00,1.45\n4168,2,1.98,2.00,1.43\n4172,2,1.98,2.00,1.43\n4176,2,2.02,2.00,1.47\n4180,2,2.03,2.00,1.48\n4184,2,2.00,2.00,1.45\n4188,2,1.98,2.00,1.43\n4192,2,2.02,2.00,1.47\n4196,2,1.98,2.00,1.43\n4200,2,1.97,2.00,1.42\n4204,2,2.00,2.00,1.45\n4208,2,2.02,2.00,1.47\n4212,2,2.02,2.00,1.47\n4216,2,1.98,2.00,1.43\n4220,2,2.00,2.00,1.45\n4224,2,2.02,1.99,1.48\n4228,2,1.94,1.96,1.43\n4232,2,2.00,2.00,1.45\n4236,2,2.02,2.00,1.47\n4240,2,1.98,2.00,1.43\n4244,2,1.98,2.00,1.43\n4248,2,2.02,2.00,1.47\n4252,2,2.00,2.00,1.45\n4256,2,1.97,2.00,1.42\n4260,2,2.01,1.99,1.47\n4264,2,2.00,2.00,1.45\n4268,2,2.02,2.00,1.47\n4272,2,1.97,1.99,1.43\n4276,2,2.03,2.00,1.48\n4280,2,2.00,2.00,1.45\n4284,2,1.98,2.00,1.43\n4288,2,1.98,2.00,1.43\n4292,2,2.02,2.00,1.47\n4296,2,2.00,2.00,1.45\n4299,2,1.98,2.00,1.43\n4302,2,2.02,2.00,1.47\n4305,2,1.99,2.00,1.44\n4308,2,2.01,1.99,1.47\n4310.5,2,1.98,2.00,1.43\n4313,2,2.01,2.00,1.46\n4316,2,1.99,2.01,1.43\n4319,2,2.03,2.01,1.47\n4322,2,2.01,2.02,1.44\n4324.5,2,2.05,2.03,1.47\n4327,2,2.03,2.04,1.44\n4330,2,2.08,2.06,1.47\n4333,2,2.09,2.10,1.44\n4336,2,1.97,1.95,1.47\n4338.5,2,1.72,1.75,1.42\n4340.5,2,1.63,1.61,1.47\n4342.5,2,1.72,1.75,1.42\n4345,2,1.99,1.97,1.47\n4347.5,2,2.08,2.09,1.44\n4351,2,2.06,2.04,1.47\n4355,2,2.00,2.02,1.43\n4359,2,2.02,2.01,1.46\n4363,2,1.98,2.00,1.43\n4367,2,2.03,2.00,1.48\n4371,2,2.02,2.00,1.47\n4375,2,1.98,2.00,1.43\n4379,2,2.00,2.00,1.45\n4383,2,1.95,1.97,1.43\n4387,2,2.02,2.00,1.47\n4391,2,2.02,2.00,1.47\n4395,2,1.97,2.00,1.42\n4399,2,2.00,2.00,1.45\n4403,2,2.02,2.00,1.47\n4407,2,1.98,2.00,1.43\n4411,2,2.00,2.00,1.45\n4415,2,2.02,2.00,1.47\n4419,2,2.03,2.00,1.48\n4423,2,1.98,2.00,1.43\n4427,2,1.98,2.00,1.43\n4431,2,2.06,2.00,1.51\n4435,2,2.02,2.00,1.47\n4439,2,1.98,2.00,1.43\n4443,2,2.02,2.00,1.47\n4447,2,2.00,2.00,1.45\n4451,2,1.97,2.00,1.42\n4455,2,2.02,2.00,1.47\n4459,2,2.02,2.00,1.47\n4463,2,2.00,2.00,1.45\n4467,2,1.98,2.00,1.43\n4471,2,2.02,2.00,1.47\n4475,2,1.98,2.00,1.43\n4479,2,2.00,2.00,1.45\n4483,2,2.03,2.00,1.48\n4487,2,1.98,2.00,1.43\n4491,2,2.00,2.00,1.45\n4495,2,1.98,2.00,1.43\n4499,2,2.02,2.00,1.47\n3730,1,1.10,1.06,0.49\n3732,1,0.85,0.92,0.38\n3734.5,1,0.76,0.79,0.42\n3737,1,1.01,0.95,0.51\n3740,1,1.04,1.09,0.40\n3742.5,1,1.16,1.12,0.49\n3745,1,0.98,1.04,0.39\n3747.5,1,0.95,0.90,0.50\n3750,1,0.71,0.75,0.41\n3752.5,1,1.02,0.95,0.52\n3755.5,1,1.12,1.09,0.48\n3758,1,1.01,1.06,0.40\n3761,1,1.12,1.06,0.51\n3764,1,1.01,1.05,0.41\n3767,1,1.02,0.97,0.50\n3770.5,1,0.70,0.73,0.42\n3773.5,1,0.99,0.95,0.49\n3777,1,1.16,1.08,0.53\n3780,1,1.01,1.04,0.42\n3783,1,1.07,1.02,0.50\n3786,1,0.98,1.02,0.41\n3789,1,1.10,1.07,0.48\n3791,1,1.16,1.09,0.52\n3794.5,1,0.88,0.93,0.40\n3798,1,0.73,0.69,0.49\n3801.5,1,0.92,0.95,0.42\n3804.5,1,1.10,1.08,0.47\n3808,1,1.00,1.04,0.41\n3811,1,1.05,1.02,0.48\n3814,1,0.99,1.01,0.43\n3817,1,1.06,1.02,0.49\n3820,1,0.98,1.01,0.42\n3823,1,1.05,1.03,0.47\n3826,1,1.04,1.07,0.42\n3828.5,1,1.13,1.09,0.49\n3832,1,0.86,0.91,0.40\n3835.4,1,0.72,0.69,0.48\n3838.5,1,0.92,0.94,0.43\n3842,1,1.12,1.09,0.48\n3845,1,1.02,1.05,0.42\n3848,1,1.05,1.03,0.47\n3851,1,0.99,1.02,0.42\n3854,1,1.03,1.01,0.47\n3857,1,0.98,1.00,0.43\n3860,1,1.02,0.99,0.48\n3863,1,0.99,1.00,0.44\n3866,1,1.02,1.00,0.47\n3869,1,0.97,1.00,0.42\n3872,1,1.03,1.01,0.47\n3875,1,1.00,1.02,0.43\n3878.5,1,1.08,1.05,0.48\n3882.5,1,1.07,1.09,0.43\n3886,1,0.94,0.93,0.46\n3889,1,0.62,0.65,0.42\n3892,1,0.95,0.93,0.47\n3896,1,1.07,1.09,0.43\n3899,1,1.06,1.03,0.48\n3902,1,0.99,1.01,0.43\n3905,1,1.01,1.00,0.46\n3908,1,0.98,1.00,0.43\n3911,1,1.03,1.00,0.48\n3914,1,0.99,1.00,0.44\n3917,1,1.02,1.00,0.47\n3920,1,0.99,1.01,0.43\n3923,1,1.05,1.03,0.47\n3926,1,1.04,1.05,0.44\n3930,1,0.97,0.95,0.47\n3933.7,1,0.70,0.72,0.43\n3937.5,1,1.07,1.05,0.47\n3941,1,1.00,1.01,0.44\n3944,1,1.02,1.00,0.47\n3947,1,0.98,1.00,0.43\n3950,1,1.02,1.01,0.46\n3953,1,0.99,1.01,0.43\n3956,1,1.04,1.02,0.47\n3959,1,1.03,1.04,0.44\n3962,1,1.10,1.09,0.46\n3966,1,0.85,0.88,0.42\n3970,1,0.64,0.62,0.47\n3974,1,0.98,1.00,0.43\n3977,1,1.10,1.09,0.46\n3980,1,1.03,1.04,0.44\n3983,1,1.03,1.01,0.47\n3986,1,0.99,1.00,0.44\n3989,1,1.01,1.00,0.46\n3992,1,0.99,1.00,0.44\n3996,1,1.02,1.00,0.47\n4000,1,1.01,1.00,0.46\n4004,1,0.99,1.00,0.44\n4008,1,1.00,1.00,0.45\n4012,1,0.99,1.00,0.44\n4016,1,1.01,1.00,0.46\n4020,1,1.01,1.00,0.46\n4024,1,0.98,1.00,0.43\n4028,1,1.00,1.00,0.45\n4032,1,1.01,1.00,0.46\n4036,1,0.99,1.00,0.44\n4040,1,1.00,1.00,0.45\n4044,1,1.00,0.99,0.46\n4048,1,1.00,0.98,0.47\n4052,1,0.99,1.00,0.44\n4056,1,0.99,1.00,0.44\n4060,1,1.00,1.00,0.45\n4064,1,1.00,0.99,0.46\n4068,1,0.99,1.00,0.44\n4072,1,1.00,0.99,0.46\n4076,1,1.00,1.00,0.45\n4080,1,0.98,1.00,0.43\n4084,1,1.02,1.01,0.46\n4088,1,1.00,1.01,0.44\n4091,1,1.04,1.03,0.46\n4095,1,1.07,1.08,0.44\n4098,1,0.91,0.90,0.46\n4100,1,0.76,0.77,0.44\n4102,1,0.66,0.65,0.46\n4104,1,0.76,0.77,0.44\n4106,1,0.93,0.92,0.46\n4109,1,1.07,1.08,0.44\n4112,1,1.04,1.03,0.46\n4116,1,1.00,1.01,0.44\n4120,1,1.02,1.01,0.46\n4124,1,1.00,1.00,0.45\n4128,1,0.99,1.00,0.44\n4132,1,1.01,1.00,0.46\n4136,1,0.99,1.00,0.44\n4140,1,1.00,1.00,0.45\n4144,1,1.01,0.99,0.47\n4148,1,0.99,1.00,0.44\n4152,1,1.00,1.00,0.45\n4156,1,0.99,1.00,0.44\n4160,1,1.01,1.00,0.46\n4164,1,1.01,1.00,0.46\n4168,1,0.99,1.00,0.44\n4172,1,0.98,1.00,0.43\n4176,1,1.00,1.00,0.45\n4180,1,1.01,1.00,0.46\n4184,1,1.00,1.00,0.45\n4188,1,0.99,1.00,0.44\n4192,1,1.01,1.00,0.46\n4196,1,1.02,1.00,0.47\n4200,1,1.00,1.00,0.45\n4204,1,0.99,1.00,0.44\n4208,1,0.99,1.00,0.44\n4212,1,1.01,1.00,0.46\n4216,1,1.00,1.00,0.45\n4220,1,0.98,1.00,0.43\n4224,1,1.00,0.99,0.46\n4228,1,0.97,0.96,0.46\n4232,1,0.99,1.00,0.44\n4236,1,1.00,1.00,0.45\n4240,1,1.01,1.00,0.46\n4244,1,0.99,1.00,0.44\n4248,1,1.02,1.00,0.47\n4252,1,0.99,1.00,0.44\n4256,1,1.00,1.00,0.45\n4260,1,1.00,0.99,0.46\n4264,1,0.99,1.00,0.44\n4268,1,0.99,1.00,0.44\n4272,1,0.99,0.99,0.45\n4276,1,1.02,1.00,0.47\n4280,1,0.99,1.00,0.44\n4284,1,1.01,1.00,0.46\n4288,1,1.00,1.00,0.45\n4292,1,0.99,1.00,0.44\n4296,1,1.01,1.00,0.46\n4299,1,1.01,1.00,0.46\n4302,1,0.99,1.00,0.44\n4305,1,1.01,1.00,0.46\n4308,1,0.98,0.99,0.44\n4310.5,1,1.02,1.00,0.47\n4313,1,0.99,1.00,0.44\n4316,1,1.02,1.01,0.46\n4319,1,1.00,1.01,0.44\n4322,1,1.03,1.02,0.46\n4324.5,1,1.02,1.03,0.44\n4327,1,1.05,1.04,0.46\n4330,1,1.05,1.06,0.44\n4333,1,1.10,1.09,0.46\n4336,1,0.94,0.95,0.44\n4338.5,1,0.78,0.76,0.47\n4340.5,1,0.64,0.63,0.46\n4342.5,1,0.74,0.76,0.43\n4345,1,0.98,0.97,0.46\n4347.5,1,1.08,1.09,0.44\n4351,1,1.05,1.04,0.46\n4355,1,1.01,1.02,0.44\n4359,1,1.02,1.01,0.46\n4363,1,1.01,1.00,0.46\n4367,1,1.00,1.00,0.45\n4371,1,0.99,1.00,0.44\n4375,1,0.99,1.00,0.44\n4379,1,1.01,1.00,0.46\n4383,1,0.99,0.97,0.47\n4387,1,1.00,1.00,0.45\n4391,1,0.99,1.00,0.44\n4395,1,1.01,1.00,0.46\n4399,1,0.99,1.00,0.44\n4403,1,0.98,1.00,0.43\n4407,1,1.00,1.00,0.45\n4411,1,1.01,1.00,0.46\n4415,1,1.01,1.00,0.46\n4419,1,0.99,1.00,0.44\n4423,1,1.00,1.00,0.45\n4427,1,1.02,1.00,0.47\n4431,1,0.99,1.00,0.44\n4435,1,1.00,1.00,0.45\n4439,1,1.01,1.00,0.46\n4443,1,0.99,1.00,0.44\n4447,1,0.99,1.00,0.44\n4451,1,1.01,1.00,0.46\n4455,1,1.00,1.00,0.45\n4459,1,0.98,1.00,0.43\n4463,1,1.01,1.00,0.46\n4467,1,1.00,1.00,0.45\n4471,1,1.01,1.00,0.46\n4475,1,0.99,1.00,0.44\n4479,1,1.02,1.00,0.47\n4483,1,1.00,1.00,0.45\n4487,1,0.99,1.00,0.44\n4491,1,0.99,1.00,0.44\n4495,1,1.01,1.00,0.46\n4499,1,1.00,1.00,0.45\n"
},
"layer": [
  {
    "data": {"values": [{"f": 5.5}, {"f": 5.4}, {"f": 4.5}, {"f": 4.4}, {"f": 3.5}, {"f": 3.4}, {"f": 2.5}, {"f": 2.4}, {"f": 1.5}, {"f": 1.4}, {"f": 0.5}, {"f": 0.4}]},
    "mark": {"type": "rule", "color": "#222", "strokeWidth": 1, "strokeDash": [12, 7]},
    "encoding": {
      "y": {"field": "f", "type": "quantitative", "scale": {"domain": [0.2, 6.5], "nice": false, "zero": false}, "axis": null}
    }
  },
  {
    "mark": {"type": "line", "color": "#000", "strokeWidth": 1},
    "encoding": {
      "x": {"field": "w", "type": "quantitative", "scale": {"domain": [3730, 4501], "nice": false, "zero": false}, "axis": null},
      "y": {"field": "r", "type": "quantitative", "axis": null},
      "detail": {"field": "n", "type": "nominal"}
    }
  },
  {
    "data": {"values": [{"f": 5.45}, {"f": 4.45}, {"f": 3.45}, {"f": 2.45}, {"f": 1.45}, {"f": 0.45}]},
    "mark": {"type": "rule", "color": "#1c1cc8", "strokeWidth": 1.2},
    "encoding": {
      "y": {"field": "f", "type": "quantitative", "axis": null}
    }
  },
  {
    "mark": {"type": "line", "color": "#000", "strokeWidth": 1.1},
    "encoding": {
      "x": {"field": "w", "type": "quantitative",
        "axis": {"orient": "bottom", "values": [3800, 4000, 4200, 4400], "format": "d", "tickSize": -30, "labelFont": "DejaVu Sans", "labelFontSize": 34, "labelPadding": 52, "labelFlush": false,
          "title": "Wavelength [Å]", "titleFont": "DejaVu Serif", "titleFontSize": 34, "titleFontWeight": "normal", "titlePadding": 10}},
      "y": {"field": "o", "type": "quantitative",
        "axis": {"orient": "left", "values": [1, 2, 3, 4, 5, 6], "format": "d", "tickSize": -20, "labelFont": "DejaVu Sans", "labelFontSize": 34, "labelPadding": 31, "labelFlush": false,
          "title": "Normalised Flux", "titleFont": "DejaVu Serif", "titleFontSize": 33, "titleFontWeight": "normal", "titlePadding": 20}},
      "detail": {"field": "n", "type": "nominal"}
    }
  },
  {
    "mark": {"type": "line", "color": "#dc1e50", "strokeWidth": 1.1},
    "encoding": {
      "x": {"field": "w", "type": "quantitative",
        "axis": {"orient": "top", "values": [3800, 4000, 4200, 4400], "tickSize": -30, "labels": false, "title": null}},
      "y": {"field": "m", "type": "quantitative", "axis": null},
      "detail": {"field": "n", "type": "nominal"}
    }
  },
  {
    "data": {"values": [
      {"f": 6.157, "t": "G64−12\u00a0\u00a0T=6393 logg=4.8 [Fe/H]=−3.3"},
      {"f": 5.157, "t": "J012512+070319\u00a0\u00a0T=6312 logg=5.0 [Fe/H]=−3.3"},
      {"f": 4.157, "t": "J041800+062308\u00a0\u00a0T=6247 logg=5.0 [Fe/H]=−3.4"},
      {"f": 3.157, "t": "J173403+64463\u00a0\u00a0T=6183 logg=5.0 [Fe/H]=−4.3"},
      {"f": 2.157, "t": "J015131+163944\u00a0\u00a0T=6036 logg=5.0 [Fe/H]=−3.8"},
      {"f": 1.157, "t": "J094708+461010\u00a0\u00a0T=5858 logg=5.0 [Fe/H]=−4.1"}
    ]},
    "mark": {"type": "text", "align": "left", "baseline": "alphabetic", "font": "DejaVu Serif", "fontSize": 23.5, "color": "#111"},
    "encoding": {
      "x": {"datum": 3899, "type": "quantitative", "axis": null},
      "y": {"field": "f", "type": "quantitative", "axis": null},
      "text": {"field": "t"}
    }
  },
  {
    "data": {"values": [
      {"f": 5.55, "t": "+5%"}, {"f": 5.31, "t": "−5%"},
      {"f": 4.55, "t": "+5%"}, {"f": 4.31, "t": "−5%"},
      {"f": 3.55, "t": "+5%"}, {"f": 3.31, "t": "−5%"},
      {"f": 2.55, "t": "+5%"}, {"f": 2.31, "t": "−5%"},
      {"f": 1.55, "t": "+5%"}, {"f": 1.31, "t": "−5%"},
      {"f": 0.55, "t": "+5%"}, {"f": 0.31, "t": "−5%"}
    ]},
    "mark": {"type": "text", "align": "right", "baseline": "alphabetic", "font": "DejaVu Serif", "fontSize": 19, "color": "#111"},
    "encoding": {
      "x": {"datum": 4483, "type": "quantitative", "axis": null},
      "y": {"field": "f", "type": "quantitative", "axis": null},
      "text": {"field": "t"}
    }
  }
]
}
